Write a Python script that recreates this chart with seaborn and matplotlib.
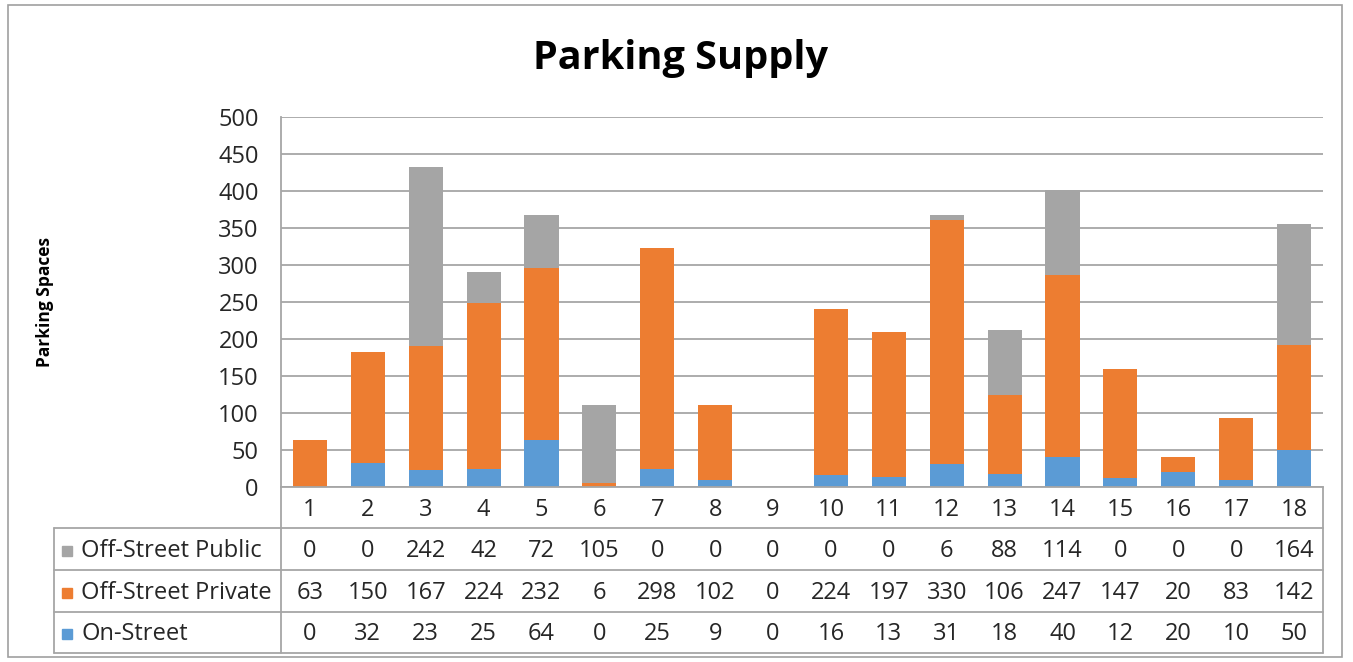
import numpy as np
import pandas as pd
import matplotlib
matplotlib.use("Agg")
import matplotlib.pyplot as plt
import matplotlib.transforms as mtransforms
from matplotlib.patches import Rectangle
import seaborn as sns

zones = [str(i) for i in range(1, 19)]
off_public = [0, 0, 242, 42, 72, 105, 0, 0, 0, 0, 0, 6, 88, 114, 0, 0, 0, 164]
off_private = [63, 150, 167, 224, 232, 6, 298, 102, 0, 224, 197, 330, 106, 247, 147, 20, 83, 142]
on_street = [0, 32, 23, 25, 64, 0, 25, 9, 0, 16, 13, 31, 18, 40, 12, 20, 10, 50]

series_names = ["Off-Street Public", "Off-Street Private", "On-Street"]
series_colors = ["#A5A5A5", "#ED7D31", "#5B9BD5"]
series_values = [off_public, off_private, on_street]

df = pd.DataFrame({"zone": zones, "public": off_public,
                   "private": off_private, "on": on_street})
# cumulative heights so overlapping bars look stacked
df["top_on"] = df["on"]
df["top_private"] = df["on"] + df["private"]
df["top_public"] = df["top_private"] + df["public"]

sns.set_theme(style="white")
plt.rcParams["font.family"] = ["Open Sans", "DejaVu Sans"]
txt = "#262626"
line_c = "#A6A6A6"
fs = 17

fig = plt.figure(figsize=(13.53, 6.62), dpi=100)
ax = fig.add_axes([281 / 1353, 1 - 487 / 662, 1042 / 1353, 370 / 662])

for col, c in zip(["top_public", "top_private", "top_on"], series_colors):
    sns.barplot(data=df, x="zone", y=col, color=c, width=0.59,
                saturation=1, linewidth=0, edgecolor="none", ax=ax, zorder=3)

ax.set_ylim(0, 500)
ax.set_yticks(np.arange(0, 501, 50))
ax.set_xlim(-0.5, len(zones) - 0.5)
ax.set_xlabel("")
ax.set_ylabel("")
ax.grid(axis="y", color=line_c, lw=1.3, zorder=0)
ax.grid(axis="x", visible=False)
for s in ["top", "right"]:
    ax.spines[s].set_visible(False)
for s in ["left", "bottom"]:
    ax.spines[s].set_color(line_c)
    ax.spines[s].set_linewidth(1.3)
    ax.spines[s].set_zorder(4)
ax.tick_params(axis="y", length=0, pad=16, labelsize=fs, labelcolor=txt)
ax.tick_params(axis="x", length=0, pad=8, labelsize=fs, labelcolor=txt)

# data table below the axis
row_y = [-0.1726, -0.2861, -0.3969]
line_y = [-0.1108, -0.2243, -0.3378, -0.4486]
left = -0.2178
blend = mtransforms.blended_transform_factory(ax.transData, ax.transAxes)
for ly in line_y:
    ax.plot([left, 1], [ly, ly], transform=ax.transAxes, color=line_c,
            lw=1.3, clip_on=False)
ax.plot([left, left], [line_y[0], line_y[-1]], transform=ax.transAxes,
        color=line_c, lw=1.3, clip_on=False)
ax.plot([0, 0], [0, line_y[-1]], transform=ax.transAxes,
        color=line_c, lw=1.3, clip_on=False)
ax.plot([1, 1], [0, line_y[-1]], transform=ax.transAxes,
        color=line_c, lw=1.3, clip_on=False)

for name, c, vals, y in zip(series_names, series_colors, series_values, row_y):
    ax.add_patch(Rectangle((-0.2105, y - 0.0135), 0.0095, 0.027,
                           transform=ax.transAxes, color=c, clip_on=False))
    ax.text(-0.1915, y, name, transform=ax.transAxes, ha="left", va="center",
            fontsize=fs, color=txt)
    for i, v in enumerate(vals):
        ax.text(i, y, str(v), transform=blend, ha="center", va="center",
                fontsize=fs, color=txt)

fig.text(0.503, 1 - 59 / 662, "Parking Supply", ha="center", va="center",
         fontsize=28.5, fontweight="bold", color="#000000")
fig.text(45 / 1353, 1 - 302 / 662, "Parking Spaces", ha="center", va="center",
         rotation=90, fontsize=12.5, fontweight="bold", color="#000000")

fig.add_artist(Rectangle((8 / 1353, 1 - 657 / 662), 1334 / 1353, 652 / 662,
                         transform=fig.transFigure, fill=False,
                         edgecolor="#A0A0A0", lw=1.2))

fig.savefig("out.png", dpi=100)
plt.close(fig)
